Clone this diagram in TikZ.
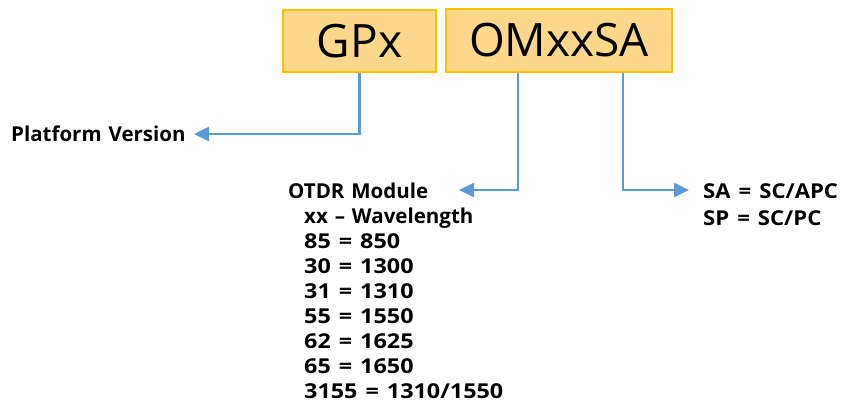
\documentclass[tikz,border=0pt]{standalone}
\usepackage{fontspec}
\setmainfont{Open Sans}
\newfontfamily\lblfont{Open Sans}[WordSpace=1.3]
\newfontfamily\eqfont{Open Sans}[FakeStretch=1.14]
\newfontfamily\safont{Open Sans}[FakeStretch=1.08]
\newcommand\eqgap{\hspace{8pt}}
\usetikzlibrary{arrows.meta,calc}
\definecolor{boxfill}{HTML}{FDD88C}
\definecolor{boxline}{HTML}{FFC000}
\definecolor{connc}{HTML}{5B9BD5}
\begin{document}
\begin{tikzpicture}[x=1pt,y=-1pt,
  code/.style={draw=boxline,line width=1.5pt,fill=boxfill,font=\fontsize{46}{50}\selectfont,inner sep=0pt},
  lbl/.style={font=\lblfont\bfseries\fontsize{20.5}{25}\selectfont,inner sep=0pt,anchor=base west},
  eq/.style={lbl,font=\eqfont\bfseries\fontsize{20.5}{25}\selectfont},
  saeq/.style={lbl,font=\safont\bfseries\fontsize{20.5}{25}\selectfont},
  conn/.style={draw=connc,line width=2.5pt,-{Triangle[length=15pt,width=14pt]}}]
\useasboundingbox (0,0) rectangle (841,409);
\node[code,minimum width=153pt,minimum height=62pt] (gp) at (359.5,41) {GPx};
\node[code,minimum width=226pt,minimum height=63pt] (om) at (559,40.5) {OMxxSA};
\node[lbl] (pv) at (11,142) {Platform Version};
\node[lbl] (otdr) at (288,198) {OTDR Module};
\node[lbl] (w0) at (304,223) {xx – Wavelength};
\node[eq] (w1) at (304,248) {85\eqgap=\eqgap850};
\node[eq] (w2) at (304,273) {30\eqgap=\eqgap1300};
\node[eq] (w3) at (304,298) {31\eqgap=\eqgap1310};
\node[eq] (w4) at (304,323) {55\eqgap=\eqgap1550};
\node[eq] (w5) at (304,348) {62\eqgap=\eqgap1625};
\node[eq] (w6) at (304,373) {65\eqgap=\eqgap1650};
\node[eq] (w7) at (304,398) {3155\eqgap=\eqgap1310/1550};
\node[saeq] (sa) at (703,198) {SA\eqgap=\eqgap SC/APC};
\node[saeq] (sp) at (703,225) {SP\eqgap=\eqgap SC/PC};
\coordinate (pvtip) at (194,134);
\coordinate (omA) at (518,0);
\coordinate (omB) at (623,0);
\coordinate (otip) at (459,190);
\coordinate (satip) at (689,190);
\draw[conn] (gp.south) |- (pvtip);
\draw[conn] (om.south -| omA) |- (otip);
\draw[conn] (om.south -| omB) |- (satip);
\end{tikzpicture}
\end{document}
